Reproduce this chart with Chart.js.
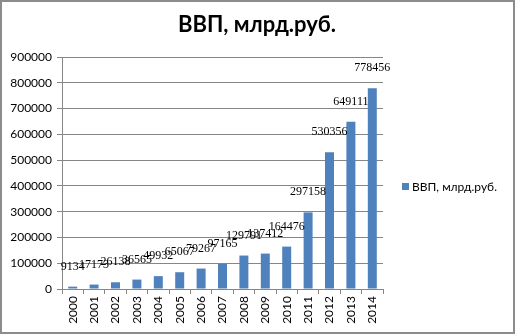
<!DOCTYPE html>
<html>
<head>
<meta charset="utf-8">
<script src="https://cdn.jsdelivr.net/npm/chart.js@4/dist/chart.umd.min.js"></script>
<style>
  html, body { margin: 0; padding: 0; background: #fff; }
  canvas { display: block; }
</style>
</head>
<body>
<canvas id="c" width="515" height="334"></canvas>
<script>
// ВВП по годам, млрд. руб.
const years = ['2000','2001','2002','2003','2004','2005','2006','2007','2008','2009','2010','2011','2012','2013','2014'];
const gdp = [9134, 17173, 26138, 36565, 49932, 65067, 79267, 97165, 129791, 137412, 164476, 297158, 530356, 649111, 778456];
const seriesName = 'ВВП, млрд.руб.';
const chartTitle = 'ВВП, млрд.руб.';
const yMin = 0, yMax = 900000, yStep = 100000;

const BAR_COLOR = '#4F81BD';
const GRID_COLOR = '#868686';

// Frame, title, legend and value labels drawn on top of the chart
const decorations = {
  id: 'decorations',
  afterDraw(chart) {
    const ctx = chart.ctx;
    ctx.save();
    // outer frame
    ctx.strokeStyle = '#8c8c8c';
    ctx.lineWidth = 2;
    ctx.strokeRect(1, 1, chart.width - 2, chart.height - 2);

    // title
    ctx.fillStyle = '#000';
    ctx.font = 'bold 22px Lato, "Open Sans", sans-serif';
    ctx.textAlign = 'center';
    ctx.textBaseline = 'middle';
    ctx.fillText(chartTitle, 257, 25);

    // legend
    ctx.fillStyle = BAR_COLOR;
    ctx.fillRect(402, 183, 7, 7);
    ctx.fillStyle = '#000';
    ctx.font = '12px Lato, "Open Sans", sans-serif';
    ctx.textAlign = 'left';
    ctx.fillText(seriesName, 412, 187);

    // value labels above the bars
    const meta = chart.getDatasetMeta(0);
    ctx.font = '12px "Liberation Serif", serif';
    ctx.textAlign = 'center';
    ctx.textBaseline = 'alphabetic';
    meta.data.forEach((bar, i) => {
      ctx.fillText(String(chart.data.datasets[0].data[i]), bar.x, bar.y - 17);
    });
    ctx.restore();
  }
};

new Chart(document.getElementById('c'), {
  type: 'bar',
  data: {
    labels: years,
    datasets: [{
      label: seriesName,
      data: gdp,
      backgroundColor: BAR_COLOR,
      borderWidth: 0,
      barPercentage: 0.42,
      categoryPercentage: 1.0
    }]
  },
  options: {
    responsive: false,
    animation: false,
    devicePixelRatio: 1,
    layout: { padding: { top: 57, right: 132, left: 0, bottom: 0 } },
    plugins: {
      legend: { display: false },
      title: { display: false },
      tooltip: { enabled: false }
    },
    scales: {
      x: {
        offset: true,
        grid: {
          offset: true,
          drawOnChartArea: false,
          drawTicks: true,
          tickLength: 5,
          color: GRID_COLOR
        },
        border: { color: GRID_COLOR, width: 1 },
        ticks: {
          minRotation: 90,
          maxRotation: 90,
          autoSkip: false,
          padding: 2,
          color: '#000',
          font: { family: 'Lato, "Open Sans", sans-serif', size: 12 }
        },
        afterFit(scale) { scale.height = 45; }
      },
      y: {
        min: yMin,
        max: yMax,
        ticks: {
          stepSize: yStep,
          padding: 5,
          color: '#000',
          font: { family: 'Lato, "Open Sans", sans-serif', size: 12 },
          callback: v => String(v)
        },
        grid: {
          color: GRID_COLOR,
          tickLength: 5,
          drawTicks: true
        },
        border: { color: GRID_COLOR, width: 1 },
        afterFit(scale) { scale.width = 62; }
      }
    }
  },
  plugins: [decorations]
});
</script>
</body>
</html>
